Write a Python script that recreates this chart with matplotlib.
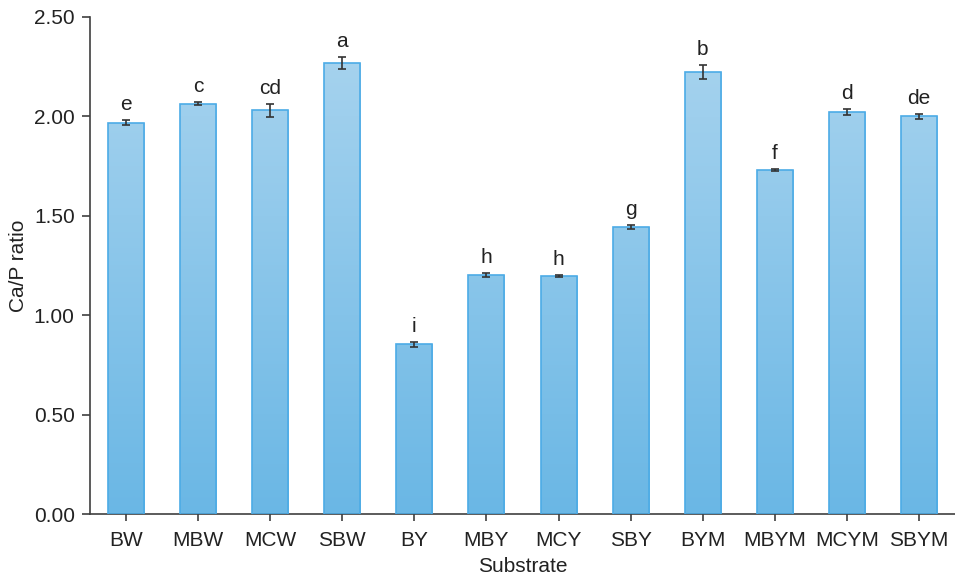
import matplotlib
matplotlib.use("Agg")
import matplotlib.pyplot as plt
import numpy as np
from matplotlib.colors import LinearSegmentedColormap

plt.rcParams['font.family'] = ['Liberation Sans', 'DejaVu Sans']

substrates = ['BW', 'MBW', 'MCW', 'SBW', 'BY', 'MBY', 'MCY', 'SBY',
              'BYM', 'MBYM', 'MCYM', 'SBYM']
ratio = [1.968, 2.064, 2.031, 2.270, 0.853, 1.202, 1.197, 1.444,
         2.223, 1.729, 2.021, 2.000]
err = [0.012, 0.008, 0.033, 0.030, 0.012, 0.010, 0.004, 0.010,
       0.037, 0.005, 0.016, 0.012]
letters = ['e', 'c', 'cd', 'a', 'i', 'h', 'h', 'g', 'b', 'f', 'd', 'de']

text_col = '#222222'
grad = LinearSegmentedColormap.from_list('bar', ['#6ab7e5', '#abd5ef'])

fig = plt.figure(figsize=(9.55, 5.78), dpi=100)
ax = fig.add_axes([0.0942, 0.1107, 0.9058, 0.8599])

x = np.arange(len(substrates))
bars = ax.bar(x, ratio, width=0.5, color='none', edgecolor='#4cabe6',
              linewidth=1.2, zorder=3)

# vertical gradient inside each bar
g = np.linspace(0, 1, 256).reshape(-1, 1)
for b in bars:
    x0 = b.get_x()
    w = b.get_width()
    im = ax.imshow(g, cmap=grad, origin='lower', aspect='auto',
                   extent=[x0, x0 + w, 0, 2.5], zorder=2)
    im.set_clip_path(b)

ax.errorbar(x, ratio, yerr=err, fmt='none', ecolor='#333333',
            elinewidth=1.2, capsize=3, capthick=1.2, zorder=4)

for xi, v, e, lab in zip(x, ratio, err, letters):
    ax.text(xi, v + e + 0.03, lab, ha='center', va='bottom',
            fontsize=15, color=text_col)

ax.set_xlim(-0.5, 11.5)
ax.set_ylim(0, 2.5)
ax.set_yticks(np.arange(0, 2.51, 0.5))
ax.set_yticklabels(['%.2f' % t for t in np.arange(0, 2.51, 0.5)])
ax.set_xticks(x)
ax.set_xticklabels(substrates)

for s in ['top', 'right']:
    ax.spines[s].set_visible(False)
for s in ['left', 'bottom']:
    ax.spines[s].set_color('#404040')
    ax.spines[s].set_linewidth(1.2)

ax.tick_params(axis='both', labelsize=15, colors='#404040',
               labelcolor=text_col, width=1.2)
ax.tick_params(axis='y', length=6, pad=5)
ax.tick_params(axis='x', length=5, pad=7)

ax.set_xlabel('Substrate', fontsize=15, color=text_col, labelpad=5)
ax.set_ylabel('Ca/P ratio', fontsize=15, color=text_col, labelpad=4)

fig.savefig('out.png', dpi=100)
